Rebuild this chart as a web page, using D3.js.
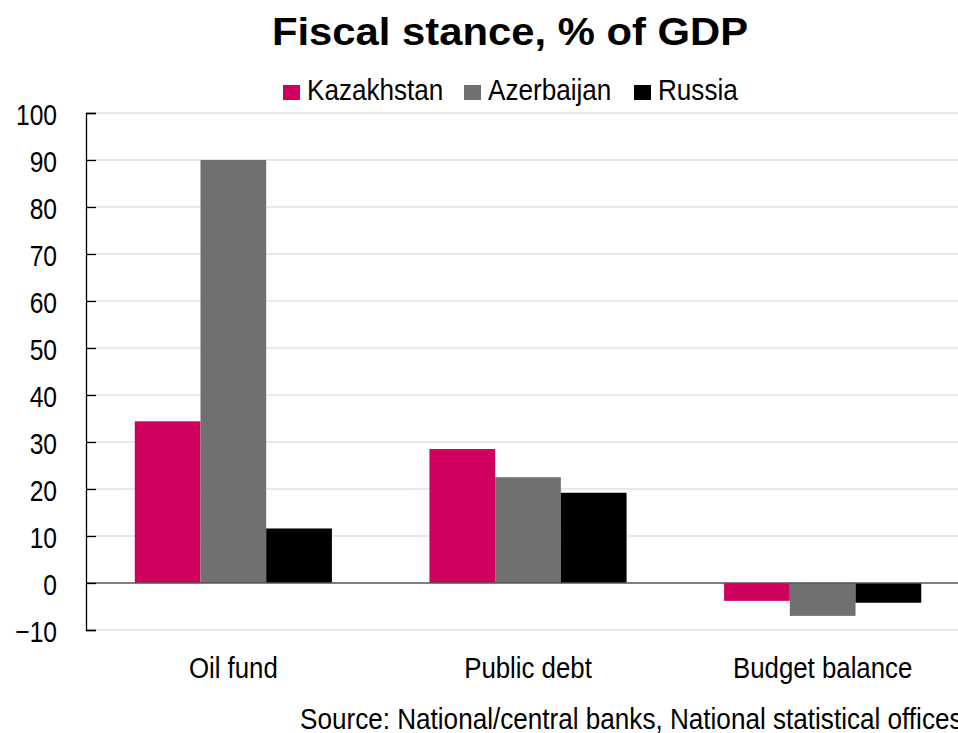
<!DOCTYPE html>
<html>
<head>
<meta charset="utf-8">
<script src="https://cdn.jsdelivr.net/npm/d3@7"></script>
<style>
  body { margin: 0; background: #fff; }
  svg { display: block; font-family: "Liberation Sans", Arial, sans-serif; }
</style>
</head>
<body>
<div id="chart"></div>
<script>
// chart data
const categories = ["Oil fund", "Public debt", "Budget balance"];
const seriesNames = ["Kazakhstan", "Azerbaijan", "Russia"];
const kazakhstan = [34.4, 28.5, -3.8];
const azerbaijan = [90.0, 22.5, -7.0];
const russia = [11.6, 19.2, -4.2];
const yTicks = [-10, 0, 10, 20, 30, 40, 50, 60, 70, 80, 90, 100];
const colors = ["#D0005F", "#707070", "#000000"];

const width = 958, height = 733;
const margin = { top: 113, left: 86, bottom: 103 };
const plotRight = 970;

// squeeze / stretch text horizontally (source font is narrower than Liberation Sans)
const squeeze = (sel, k) => sel.each(function () {
  const len = this.getComputedTextLength();
  d3.select(this)
    .attr("textLength", len * k)
    .attr("lengthAdjust", "spacingAndGlyphs");
});

const svg = d3.select("#chart").append("svg")
  .attr("width", width)
  .attr("height", height);

const x = d3.scaleBand()
  .domain(categories)
  .range([margin.left, plotRight])
  .paddingInner(0.331)
  .paddingOuter(0.1655);

const xInner = d3.scaleBand()
  .domain(seriesNames)
  .range([0, x.bandwidth()]);

const y = d3.scaleLinear()
  .domain([-10, 100])
  .range([height - margin.bottom, margin.top]);

// gridlines
svg.append("g")
  .selectAll("line")
  .data(yTicks.filter(d => d !== 0))
  .enter().append("line")
    .attr("x1", margin.left)
    .attr("x2", width)
    .attr("y1", d => y(d))
    .attr("y2", d => y(d))
    .style("stroke", "#e2e2e2")
    .style("stroke-width", 1.3);

// bars
const rows = categories.map((c, i) => ({
  category: c,
  values: [kazakhstan[i], azerbaijan[i], russia[i]]
}));

const groups = svg.append("g")
  .selectAll("g")
  .data(rows)
  .enter().append("g")
    .attr("transform", d => `translate(${x(d.category)},0)`);

groups.selectAll("rect")
  .data(d => d.values.map((v, i) => ({ name: seriesNames[i], value: v, i })))
  .enter().append("rect")
    .attr("x", d => xInner(d.name))
    .attr("width", xInner.bandwidth())
    .attr("y", d => y(Math.max(0, d.value)))
    .attr("height", d => Math.abs(y(d.value) - y(0)))
    .style("fill", d => colors[d.i]);

// zero line
svg.append("line")
  .attr("x1", margin.left)
  .attr("x2", width)
  .attr("y1", y(0))
  .attr("y2", y(0))
  .style("stroke", "#555")
  .style("stroke-width", 1.3);

// y axis
const yAxis = svg.append("g")
  .attr("transform", `translate(${margin.left},0)`)
  .call(d3.axisRight(y).tickValues(yTicks).tickSize(10).tickFormat(d3.format("d")));
yAxis.select(".domain").style("stroke", "#000").style("stroke-width", 1.3);
yAxis.selectAll(".tick line").style("stroke", "#000").style("stroke-width", 1.3);
yAxis.selectAll(".tick text")
  .attr("x", -29)
  .attr("dy", 11)
  .attr("text-anchor", "end")
  .style("font-size", "30px")
  .style("fill", "#000")
  .call(squeeze, 0.82);

// category labels
svg.append("g")
  .selectAll("text")
  .data(categories)
  .enter().append("text")
    .attr("x", d => x(d) + x.bandwidth() / 2)
    .attr("y", 678)
    .attr("text-anchor", "middle")
    .style("font-size", "30px")
    .text(d => d)
    .call(squeeze, 0.86);

// title
svg.append("text")
  .attr("x", 510)
  .attr("y", 45)
  .attr("text-anchor", "middle")
  .style("font-size", "38px")
  .style("font-weight", "bold")
  .text("Fiscal stance, % of GDP")
  .call(squeeze, 1.1);

// legend
const legendX = [283, 464, 634];
const legend = svg.append("g")
  .selectAll("g")
  .data(seriesNames)
  .enter().append("g")
    .attr("transform", (d, i) => `translate(${legendX[i]},85)`);
legend.append("rect")
  .attr("width", 17)
  .attr("height", 15)
  .style("fill", (d, i) => colors[i]);
legend.append("text")
  .attr("x", 24)
  .attr("y", 15)
  .style("font-size", "29px")
  .text(d => d)
  .call(squeeze, 0.9);

// source
svg.append("text")
  .attr("x", 300)
  .attr("y", 729)
  .style("font-size", "30px")
  .text("Source: National/central banks, National statistical offices")
  .call(squeeze, 0.87);
</script>
</body>
</html>
